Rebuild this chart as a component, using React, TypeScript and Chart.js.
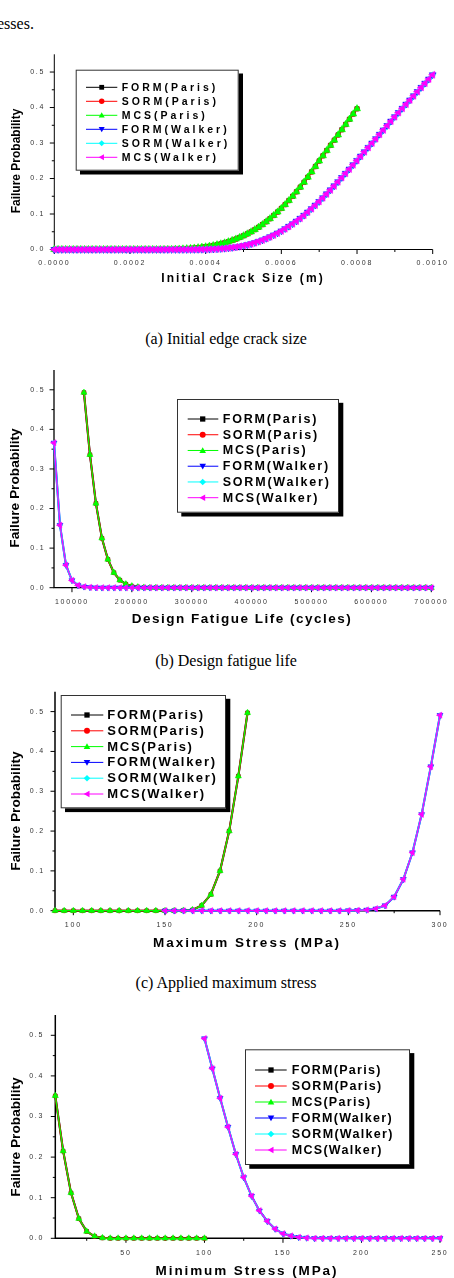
import React, { useEffect, useRef } from 'react';
import { Chart, registerables } from 'chart.js';

Chart.register(...registerables);

const SANS = '"Liberation Sans", Arial, sans-serif';
const SERIF = '"Liberation Serif", "Times New Roman", serif';

// ---------------- series ----------------
const seriesNames = ['FORM(Paris)', 'SORM(Paris)', 'MCS(Paris)', 'FORM(Walker)', 'SORM(Walker)', 'MCS(Walker)'];
const seriesColors = ['#000000', '#ff0000', '#00ff00', '#0000ff', '#00ffff', '#ff00ff'];

// ---------------- (a) initial edge crack size (m) ----------------
const crackParisStart = 0;
const crackWalkerStart = 0;
const crackStep = 0.00001;
const crackParisProb = [
  0, 0, 0, 0, 0, 0, 0, 0, 0, 0,
  0, 0, 0, 0, 0, 0, 0, 0, 0, 0,
  0, 0, 0, 0, 0, 0, 0, 0, 0, 0.0002,
  0.0003, 0.0005, 0.0008, 0.0012, 0.0017, 0.0023, 0.0031, 0.0041, 0.0052, 0.0064,
  0.0077, 0.0093, 0.0112, 0.0134, 0.0159, 0.0187, 0.0219, 0.0255, 0.0295, 0.0339,
  0.0387, 0.044, 0.0498, 0.0561, 0.0629, 0.0702, 0.0782, 0.0868, 0.096, 0.1057,
  0.1158, 0.1266, 0.138, 0.15, 0.1626, 0.1758, 0.1896, 0.2039, 0.2187, 0.2339,
  0.2495, 0.2641, 0.2788, 0.2935, 0.3082, 0.3229, 0.3376, 0.3523, 0.367, 0.3818,
  0.3966,
];
const crackWalkerProb = [
  0, 0, 0, 0, 0, 0, 0, 0, 0, 0,
  0, 0, 0, 0, 0, 0, 0, 0, 0, 0,
  0, 0, 0, 0, 0, 0, 0, 0, 0, 0,
  0, 0, 0, 0, 0, 0, 0.0001, 0.0002, 0.0003, 0.0004,
  0.0006, 0.0009, 0.0013, 0.0018, 0.0025, 0.0034, 0.0045, 0.0058, 0.0073, 0.009,
  0.011, 0.0134, 0.0162, 0.0194, 0.023, 0.027, 0.0313, 0.036, 0.0411, 0.0466,
  0.0525, 0.0588, 0.0655, 0.0726, 0.0801, 0.088, 0.0966, 0.1057, 0.1152, 0.1251,
  0.1354, 0.146, 0.1569, 0.1681, 0.1795, 0.1911, 0.2029, 0.2148, 0.2268, 0.2389,
  0.2511, 0.2633, 0.2755, 0.2878, 0.3001, 0.3124, 0.3247, 0.3371, 0.3495, 0.3619,
  0.3743, 0.3861, 0.3979, 0.4097, 0.4215, 0.4333, 0.4451, 0.4569, 0.4687, 0.4805,
  0.4923,
];

// ---------------- (b) design fatigue life (cycles) ----------------
const lifeParisStart = 120000;
const lifeWalkerStart = 70000;
const lifeStep = 10000;
const lifeParisProb = [
  0.493, 0.336, 0.213, 0.125, 0.0715, 0.038, 0.019, 0.009, 0.004, 0.0015,
  0.0005, 0, 0, 0, 0, 0, 0, 0, 0, 0,
  0, 0, 0, 0, 0, 0, 0, 0, 0, 0,
  0, 0, 0, 0, 0, 0, 0, 0, 0, 0,
  0, 0, 0, 0, 0, 0, 0, 0, 0, 0,
  0, 0, 0, 0, 0, 0, 0, 0, 0,
];
const lifeWalkerProb = [
  0.366, 0.158, 0.057, 0.0185, 0.006, 0.0025, 0.001, 0.0003, 0, 0,
  0, 0, 0, 0, 0, 0, 0, 0, 0, 0,
  0, 0, 0, 0, 0, 0, 0, 0, 0, 0,
  0, 0, 0, 0, 0, 0, 0, 0, 0, 0,
  0, 0, 0, 0, 0, 0, 0, 0, 0, 0,
  0, 0, 0, 0, 0, 0, 0, 0, 0, 0,
  0, 0, 0, 0,
];

// ---------------- (c) applied maximum stress (MPa) ----------------
const maxStressParisStart = 90;
const maxStressWalkerStart = 150;
const maxStressStep = 5;
const maxStressParisProb = [
  0, 0, 0, 0, 0, 0, 0, 0, 0, 0,
  0, 0, 0, 0, 0.0005, 0.002, 0.013, 0.041, 0.1, 0.2,
  0.338, 0.497,
];
const maxStressWalkerProb = [
  0, 0, 0, 0, 0, 0, 0, 0, 0, 0,
  0, 0, 0, 0, 0, 0, 0, 0, 0, 0,
  0.0005, 0.001, 0.002, 0.005, 0.013, 0.035, 0.079, 0.146, 0.242, 0.362,
  0.491,
];

// ---------------- (d) minimum stress (MPa) ----------------
const minStressParisStart = 5;
const minStressWalkerStart = 100;
const minStressStep = 5;
const minStressParisProb = [
  0.351, 0.215, 0.112, 0.0485, 0.017, 0.005, 0.001, 0, 0, 0,
  0, 0, 0, 0, 0, 0, 0, 0, 0, 0,
];
const minStressWalkerProb = [
  0.492, 0.418, 0.345, 0.274, 0.207, 0.15, 0.104, 0.068, 0.042, 0.023,
  0.0115, 0.006, 0.0025, 0.001, 0, 0, 0, 0, 0, 0,
  0, 0, 0, 0, 0, 0, 0, 0, 0, 0,
  0,
];

const yTickMajor = 0.1;
const yTickMinor = 0.05;
const yMax = 0.55;
const yLabelMax = 0.5;

// ---------------- panel layout ----------------
const panels = [
  {
    id: 'a', canvasTop: 40, height: 260,
    area: { left: 54.3, right: 432.7, top: 14.3, bottom: 209.5 },
    xMin: 0, xMax: 0.001, xMinor: 0.0001, xMajor: 0.0002, xDecimals: 4,
    paris: { start: crackParisStart, step: crackStep, values: crackParisProb },
    walker: { start: crackWalkerStart, step: crackStep, values: crackWalkerProb },
    pointRadius: 3.6, lineWidth: 1, axisWidth: 1, yLabelPad: 9, xLabelPad: 9.5,
    legend: { x: 75.7, y: 29.7, w: 163, h: 101, firstY: 47.3, rowGap: 14, lineX1: 86, lineX2: 117.3, markerX: 101.7, textX: 121.7, fontSize: 10.5, spacing: 3, markerR: 3 },
  },
  {
    id: 'b', canvasTop: 355, height: 280,
    area: { left: 54, right: 431.3, top: 15, bottom: 232.7 },
    xMin: 70000, xMax: 700000, xMinor: 50000, xMajor: 100000, xDecimals: 0,
    paris: { start: lifeParisStart, step: lifeStep, values: lifeParisProb },
    walker: { start: lifeWalkerStart, step: lifeStep, values: lifeWalkerProb },
    pointRadius: 3.1, lineWidth: 1.4, axisWidth: 1.3, yLabelPad: 8.6, xLabelPad: 10,
    legend: { x: 177, y: 44, w: 162, h: 113.7, firstY: 64, rowGap: 15.74, lineX1: 187.7, lineX2: 218.3, markerX: 202.7, textX: 222.7, fontSize: 12.5, spacing: 1.8, markerR: 3.3 },
  },
  {
    id: 'c', canvasTop: 680, height: 275,
    area: { left: 55, right: 440, top: 11.7, bottom: 230.7 },
    xMin: 90, xMax: 300, xMinor: 25, xMajor: 50, xDecimals: 0,
    paris: { start: maxStressParisStart, step: maxStressStep, values: maxStressParisProb },
    walker: { start: maxStressWalkerStart, step: maxStressStep, values: maxStressWalkerProb },
    pointRadius: 3.1, lineWidth: 1.4, axisWidth: 1.5, yLabelPad: 10, xLabelPad: 10,
    legend: { x: 60.7, y: 15, w: 165.3, h: 113.3, firstY: 35, rowGap: 15.8, lineX1: 71, lineX2: 103.3, markerX: 87, textX: 107.3, fontSize: 13, spacing: 1.7, markerR: 3.3 },
  },
  {
    id: 'd', canvasTop: 1000, height: 278,
    area: { left: 55.3, right: 440, top: 15, bottom: 238.3 },
    xMin: 5, xMax: 250, xMinor: 25, xMajor: 50, xDecimals: 0,
    paris: { start: minStressParisStart, step: minStressStep, values: minStressParisProb },
    walker: { start: minStressWalkerStart, step: minStressStep, values: minStressWalkerProb },
    pointRadius: 3.1, lineWidth: 1.4, axisWidth: 1.5, yLabelPad: 11, xLabelPad: 11,
    legend: { x: 245, y: 49.3, w: 165, h: 115.7, firstY: 70, rowGap: 16, lineX1: 255, lineX2: 286.7, markerX: 271, textX: 291.7, fontSize: 12.5, spacing: 1.3, markerR: 3.3 },
  },
];

const titles = [
  { x: 'Initial Crack Size (m)', xc: [243, 277.7], xs: 12, xsp: 2.1, yc: [15.7, 160.7], ys: 12 },
  { x: 'Design Fatigue Life (cycles)', xc: [242, 619.3], xs: 13.5, xsp: 1.5, yc: [15.3, 488.3], ys: 13.7 },
  { x: 'Maximum Stress (MPa)', xc: [247, 942.7], xs: 13.5, xsp: 2, yc: [15.7, 810.7], ys: 13.7 },
  { x: 'Minimum Stress (MPa)', xc: [247, 1271], xs: 13.5, xsp: 1.9, yc: [15.7, 1136.7], ys: 13.7 },
];

const captions = [
  { text: '(a) Initial edge crack size', top: 330.6 },
  { text: '(b) Design fatigue life', top: 652.6 },
  { text: '(c) Applied maximum stress', top: 975 },
];

const markerStyles = [
  { pointStyle: 'rect', rotation: 0, scale: 0.85, line: 1.5 },
  { pointStyle: 'circle', rotation: 0, scale: 0.7, line: 1.3 },
  { pointStyle: 'triangle', rotation: 0, scale: 1.15, line: 0.9 },
  { pointStyle: 'triangle', rotation: 180, scale: 1.1, line: 1.5 },
  { pointStyle: 'rectRot', rotation: 0, scale: 0.85, line: 1.3 },
  { pointStyle: 'triangle', rotation: -90, scale: 1.15, line: 0.9 },
];

function isMultiple(v: number, m: number) {
  const r = v / m;
  return Math.abs(r - Math.round(r)) < 1e-6;
}

function gridValues(min: number, max: number, step: number) {
  const out: { value: number }[] = [];
  const n0 = Math.ceil(min / step - 1e-9);
  const n1 = Math.floor(max / step + 1e-9);
  for (let n = n0; n <= n1; n++) out.push({ value: Number((n * step).toPrecision(12)) });
  return out;
}

function drawMarker(ctx: CanvasRenderingContext2D, kind: number, x: number, y: number, r: number, color: string) {
  ctx.fillStyle = color;
  ctx.beginPath();
  switch (kind) {
    case 0:
      ctx.rect(x - r * 0.8, y - r * 0.8, r * 1.6, r * 1.6);
      break;
    case 1:
      ctx.arc(x, y, r * 0.9, 0, Math.PI * 2);
      break;
    case 2:
      ctx.moveTo(x, y - r);
      ctx.lineTo(x + r, y + r * 0.75);
      ctx.lineTo(x - r, y + r * 0.75);
      break;
    case 3:
      ctx.moveTo(x, y + r);
      ctx.lineTo(x + r, y - r * 0.75);
      ctx.lineTo(x - r, y - r * 0.75);
      break;
    case 4:
      ctx.moveTo(x, y - r);
      ctx.lineTo(x + r, y);
      ctx.lineTo(x, y + r);
      ctx.lineTo(x - r, y);
      break;
    default:
      ctx.moveTo(x - r, y);
      ctx.lineTo(x + r * 0.75, y - r);
      ctx.lineTo(x + r * 0.75, y + r);
      break;
  }
  ctx.closePath();
  ctx.fill();
}

function buildConfig(p: any) {
  const toPoints = (s: any) => s.values.map((v: number, k: number) => ({ x: s.start + k * s.step, y: v }));
  const parisPts = toPoints(p.paris);
  const walkerPts = toPoints(p.walker);
  const datasets = seriesNames.map((name, i) => ({
    label: name,
    data: i < 3 ? parisPts : walkerPts,
    borderColor: seriesColors[i],
    backgroundColor: seriesColors[i],
    pointBackgroundColor: seriesColors[i],
    pointBorderColor: seriesColors[i],
    pointBorderWidth: 0.5,
    borderWidth: p.lineWidth * markerStyles[i].line,
    pointRadius: p.pointRadius * markerStyles[i].scale,
    pointStyle: markerStyles[i].pointStyle,
    rotation: markerStyles[i].rotation,
    tension: 0,
    order: 6 - i,
    clip: false,
  }));

  const W = 454;
  const xAxisH = 30;

  const fontPlugin = {
    id: 'spacing_' + p.id,
    beforeDraw(chart: any) {
      (chart.ctx as any).letterSpacing = '1.8px';
    },
  };

  const axesPlugin = {
    id: 'axes_' + p.id,
    beforeDatasetsDraw(chart: any) {
      const ctx = chart.ctx as CanvasRenderingContext2D;
      const { left, right, top, bottom } = chart.chartArea;
      const xs = chart.scales.x;
      const ys = chart.scales.y;
      ctx.save();
      ctx.strokeStyle = '#000';
      ctx.lineWidth = p.axisWidth;
      ctx.beginPath();
      ctx.moveTo(left, top);
      ctx.lineTo(left, bottom);
      ctx.lineTo(right, bottom);
      ctx.stroke();
      ctx.lineWidth = 1;
      ctx.beginPath();
      xs.ticks.forEach((t: any) => {
        const len = isMultiple(t.value, p.xMajor) ? 4.5 : 2.5;
        const px = xs.getPixelForValue(t.value);
        ctx.moveTo(px, bottom);
        ctx.lineTo(px, bottom + len);
      });
      ys.ticks.forEach((t: any) => {
        const len = isMultiple(t.value, yTickMajor) ? 4.5 : 2.5;
        const py = ys.getPixelForValue(t.value);
        ctx.moveTo(left, py);
        ctx.lineTo(left - len, py);
      });
      ctx.stroke();
      ctx.restore();
    },
  };

  const legendPlugin = {
    id: 'legend_' + p.id,
    afterDraw(chart: any) {
      const ctx = chart.ctx as any;
      const L = p.legend;
      ctx.save();
      ctx.letterSpacing = '0px';
      ctx.fillStyle = '#000';
      ctx.fillRect(L.x + 4.3, L.y + 3.8, L.w, L.h);
      ctx.fillStyle = '#fff';
      ctx.fillRect(L.x, L.y, L.w, L.h);
      ctx.strokeStyle = '#333';
      ctx.lineWidth = 1;
      ctx.strokeRect(L.x + 0.5, L.y + 0.5, L.w - 1, L.h - 1);
      seriesNames.forEach((name, i) => {
        const yy = L.firstY + i * L.rowGap;
        ctx.letterSpacing = '0px';
        ctx.strokeStyle = seriesColors[i];
        ctx.lineWidth = 1;
        ctx.beginPath();
        ctx.moveTo(L.lineX1, yy);
        ctx.lineTo(L.lineX2, yy);
        ctx.stroke();
        drawMarker(ctx, i, L.markerX, yy, L.markerR, seriesColors[i]);
        ctx.fillStyle = '#000';
        ctx.font = `bold ${L.fontSize}px ${SANS}`;
        ctx.letterSpacing = `${L.spacing}px`;
        ctx.textAlign = 'left';
        ctx.textBaseline = 'middle';
        ctx.fillText(name, L.textX, yy + 0.5);
      });
      ctx.restore();
    },
  };

  return {
    type: 'line' as const,
    data: { datasets },
    options: {
      animation: false,
      responsive: false,
      maintainAspectRatio: false,
      devicePixelRatio: 1,
      events: [],
      layout: {
        padding: {
          left: 0,
          top: p.area.top,
          right: W - p.area.right,
          bottom: p.height - p.area.bottom - xAxisH,
        },
      },
      plugins: {
        legend: { display: false },
        tooltip: { enabled: false },
        title: { display: false },
      },
      scales: {
        x: {
          type: 'linear',
          min: p.xMin,
          max: p.xMax,
          afterBuildTicks: (s: any) => {
            s.ticks = gridValues(p.xMin, p.xMax, p.xMinor);
          },
          afterFit: (s: any) => {
            s.height = xAxisH;
            s.paddingLeft = 0;
            s.paddingRight = 0;
          },
          grid: { display: false, drawTicks: false },
          border: { display: false },
          ticks: {
            autoSkip: false,
            maxRotation: 0,
            minRotation: 0,
            padding: p.xLabelPad,
            color: '#333',
            font: { family: SANS, size: 7 },
            callback: (v: any) => (isMultiple(v, p.xMajor) ? Number(v).toFixed(p.xDecimals) : ''),
          },
        },
        y: {
          type: 'linear',
          min: 0,
          max: yMax,
          afterBuildTicks: (s: any) => {
            s.ticks = gridValues(0, yLabelMax, yTickMinor);
          },
          afterFit: (s: any) => {
            s.width = p.area.left;
            s.paddingTop = 0;
            s.paddingBottom = 0;
          },
          grid: { display: false, drawTicks: false },
          border: { display: false },
          ticks: {
            autoSkip: false,
            padding: p.yLabelPad,
            color: '#333',
            font: { family: SANS, size: 7 },
            callback: (v: any) => (isMultiple(v, yTickMajor) ? Number(v).toFixed(1) : ''),
          },
        },
      },
    },
    plugins: [fontPlugin, axesPlugin, legendPlugin],
  };
}

function Panel({ spec }: { spec: any }) {
  const ref = useRef<HTMLCanvasElement>(null);
  useEffect(() => {
    const chart = new Chart(ref.current as HTMLCanvasElement, buildConfig(spec) as any);
    return () => chart.destroy();
  }, [spec]);
  return (
    <canvas
      ref={ref}
      width={454}
      height={spec.height}
      style={{ position: 'absolute', left: 0, top: spec.canvasTop, width: 454, height: spec.height }}
    />
  );
}

function AxisTitles({ t }: { t: any }) {
  return (
    <>
      <div
        style={{
          position: 'absolute',
          left: t.xc[0],
          top: t.xc[1],
          transform: 'translate(-50%, -50%)',
          whiteSpace: 'nowrap',
          fontFamily: SANS,
          fontWeight: 'bold',
          fontSize: t.xs,
          letterSpacing: t.xsp,
          lineHeight: 1,
          color: '#000',
        }}
      >
        {t.x}
      </div>
      <div
        style={{
          position: 'absolute',
          left: t.yc[0],
          top: t.yc[1],
          transform: 'translate(-50%, -50%) rotate(-90deg)',
          whiteSpace: 'nowrap',
          fontFamily: SANS,
          fontWeight: 'bold',
          fontSize: t.ys,
          lineHeight: 1,
          color: '#000',
        }}
      >
        Failure Probability
      </div>
    </>
  );
}

export default function App() {
  return (
    <div style={{ position: 'absolute', left: 0, top: 0, width: 454, height: 1278, overflow: 'hidden', background: '#fff' }}>
      <div
        style={{
          position: 'absolute',
          left: -3,
          top: 16,
          fontFamily: SERIF,
          fontSize: 16,
          lineHeight: '16px',
          whiteSpace: 'nowrap',
          color: '#000',
        }}
      >
        esses.
      </div>
      {captions.map((c) => (
        <div
          key={c.text}
          style={{
            position: 'absolute',
            left: 0,
            width: 452,
            top: c.top,
            textAlign: 'center',
            fontFamily: SERIF,
            fontSize: 16,
            lineHeight: '16px',
            whiteSpace: 'nowrap',
            color: '#000',
          }}
        >
          {c.text}
        </div>
      ))}
      {panels.map((p) => (
        <Panel key={p.id} spec={p} />
      ))}
      {titles.map((t) => (
        <AxisTitles key={t.x} t={t} />
      ))}
    </div>
  );
}
